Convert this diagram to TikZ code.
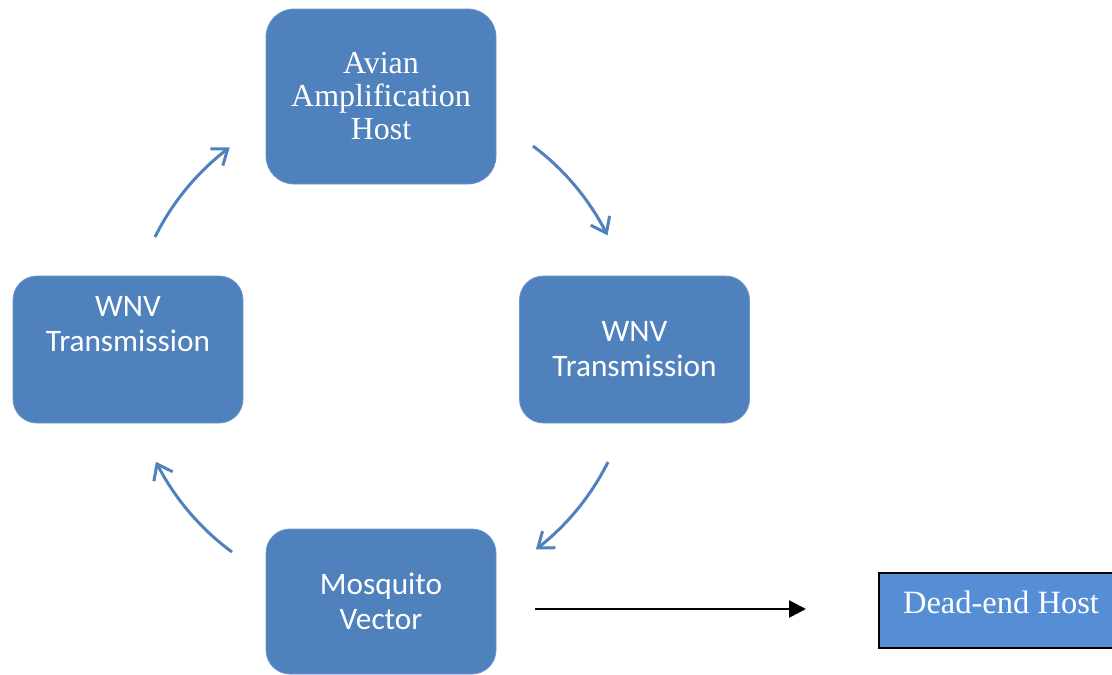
\documentclass[tikz,border=0pt]{standalone}
\usepackage{fontspec}
\setmainfont{Liberation Serif}
\newfontfamily\calibri{Carlito}
\usetikzlibrary{arrows.meta,bending}
\definecolor{boxblue}{HTML}{4F81BD}
\definecolor{boxedge}{HTML}{6A96CA}
\definecolor{deadblue}{HTML}{558ED5}
\begin{document}
\begin{tikzpicture}[x=1pt,y=-1pt,
  stage/.style={fill=boxblue, draw=boxedge, line width=0.8pt, rounded corners=24pt,
    minimum width=230pt, minimum height=147pt, inner sep=0pt, outer sep=0pt,
    text=white, align=center},
  serifbig/.style={font=\fontsize{32}{33}\selectfont},
  sansbig/.style={font=\calibri\fontsize{31.3}{35}\selectfont},
  cyclearrow/.style={draw=boxblue, line width=3pt,
    -{Straight Barb[length=14pt,width=21pt]}},
  deadbox/.style={fill=deadblue, draw=black, line width=2pt, minimum width=244pt,
    minimum height=75pt, inner sep=0pt, text=white}
]
\useasboundingbox (0,0) rectangle (1112,675);

% the four stages of the cycle
\node[stage, serifbig, minimum height=175pt, rounded corners=28pt] (avian) at (381,96.5)
  {Avian\\Amplification\\Host};
\node[stage] (wnvL) at (128,349.5) {};
\node[sansbig, text=white, align=center] (wnvLtext) at (128,324) {WNV\\Transmission};
\node[stage, sansbig] (wnvR) at (634.5,349.5) {WNV\\Transmission};
\node[stage, sansbig, minimum height=145pt] (mos) at (381,601.5) {Mosquito\\Vector};

% dead-end host
\node[deadbox, font=\fontsize{32.5}{33}\selectfont, text height=21pt, text depth=15pt]
  (dead) at (1001,610.5) {Dead-end Host};

% curved arrows of the cycle (arcs round a common centre)
\coordinate (tlS) at (155,237);
\coordinate (trS) at (533,146);
\coordinate (brS) at (608,462);
\coordinate (blS) at (232,552);
\draw[cyclearrow] (tlS) arc[start angle=153.6, end angle=126.8, radius=252pt];
\draw[cyclearrow] (trS) arc[start angle=53.2, end angle=26.5, radius=252pt];
\draw[cyclearrow] (brS) arc[start angle=-26.5, end angle=-52.5, radius=252pt];
\draw[cyclearrow] (blS) arc[start angle=-126.3, end angle=-153.4, radius=252pt];

% arrow to the dead-end host
\coordinate (deadS) at (535,609);
\coordinate (deadE) at (806,609);
\draw[line width=2.6pt, -{Triangle[length=17pt,width=17pt]}] (deadS) -- (deadE);
\end{tikzpicture}
\end{document}
